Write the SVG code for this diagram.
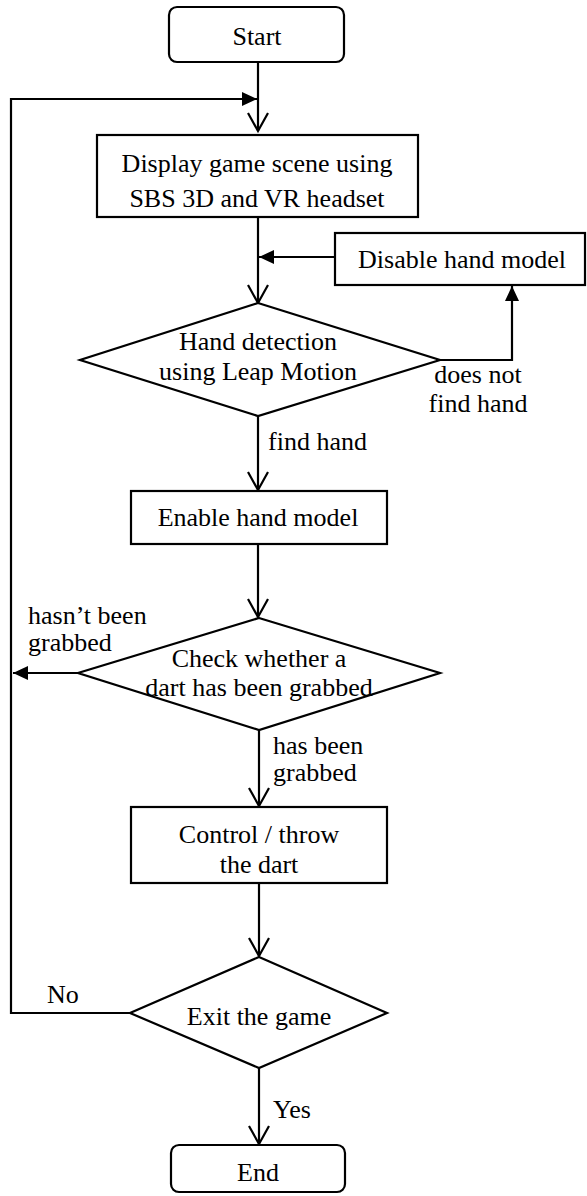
<svg xmlns="http://www.w3.org/2000/svg" width="587" height="1196" viewBox="0 0 587 1196">
<defs>
<style>
.n{fill:#fff;stroke:#000;stroke-width:2.2}
.c{fill:none;stroke:#000;stroke-width:2.2}
.t{font-family:'Liberation Serif',Tinos,'Times New Roman','DejaVu Serif',serif;font-size:26px;fill:#000}
.m{text-anchor:middle}
</style>
<marker id="open" markerUnits="userSpaceOnUse" markerWidth="24" markerHeight="24" refX="20" refY="10" orient="auto" viewBox="0 0 24 20">
<path d="M2,0 L20,10 L2,20" fill="none" stroke="#000" stroke-width="2.2"/>
</marker>
<marker id="fill" markerUnits="userSpaceOnUse" markerWidth="16" markerHeight="16" refX="15" refY="7" orient="auto" viewBox="0 0 16 14">
<path d="M0,0 L15,7 L0,14 Z" fill="#000"/>
</marker>
</defs>
<g id="connectors">
<path class="c" d="M258,62 V131" marker-end="url(#open)"/>
<path class="c" d="M258,217 V303" marker-end="url(#open)"/>
<path class="c" d="M335,257 H259" marker-end="url(#fill)"/>
<path class="c" d="M440,360 H512 V286" marker-end="url(#fill)"/>
<path class="c" d="M258,416 V490" marker-end="url(#open)"/>
<path class="c" d="M258,544 V617" marker-end="url(#open)"/>
<path class="c" d="M78,673 H13" marker-end="url(#fill)"/>
<path class="c" d="M259,730 V806" marker-end="url(#open)"/>
<path class="c" d="M259,883 V956" marker-end="url(#open)"/>
<path class="c" d="M130,1013 H11 V99 H257" marker-end="url(#fill)"/>
<path class="c" d="M259,1068 V1144" marker-end="url(#open)"/>
<g class="t">
<text x="268" y="450">find hand</text>
<text x="478" y="383" class="m">does not</text>
<text x="478" y="412" class="m">find hand</text>
<text x="28" y="624">hasn’t been</text>
<text x="28" y="651">grabbed</text>
<text x="273" y="754">has been</text>
<text x="273" y="781">grabbed</text>
<text x="47" y="1003">No</text>
<text x="273" y="1118">Yes</text>
</g>
</g>
<g id="start">
<rect class="n" x="169" y="7" width="175" height="55" rx="8"/>
<text x="257" y="45" class="t m">Start</text>
</g>
<g id="display">
<rect class="n" x="97" y="135" width="321" height="82"/>
<text x="257" y="172" class="t m">Display game scene using</text>
<text x="257" y="207" class="t m">SBS 3D and VR headset</text>
</g>
<g id="disable">
<rect class="n" x="335" y="233" width="250" height="52"/>
<text x="462" y="268" class="t m">Disable hand model</text>
</g>
<g id="detect">
<path class="n" d="M258,303 L440,360 L258,416 L80,360 Z"/>
<text x="258" y="350" class="t m">Hand detection</text>
<text x="258" y="380" class="t m">using Leap Motion</text>
</g>
<g id="enable">
<rect class="n" x="131" y="491" width="256" height="53"/>
<text x="258" y="526" class="t m">Enable hand model</text>
</g>
<g id="check">
<path class="n" d="M259,618 L440,673 L259,730 L78,673 Z"/>
<text x="259" y="667" class="t m">Check whether a</text>
<text x="259" y="696" class="t m">dart has been grabbed</text>
</g>
<g id="control">
<rect class="n" x="131" y="807" width="256" height="76"/>
<text x="259" y="843" class="t m">Control / throw</text>
<text x="259" y="873" class="t m">the dart</text>
</g>
<g id="exit">
<path class="n" d="M259,957 L387,1013 L259,1068 L130,1013 Z"/>
<text x="259" y="1025" class="t m">Exit the game</text>
</g>
<g id="end">
<rect class="n" x="171" y="1145" width="174" height="47" rx="8"/>
<text x="258" y="1181" class="t m">End</text>
</g>
</svg>
